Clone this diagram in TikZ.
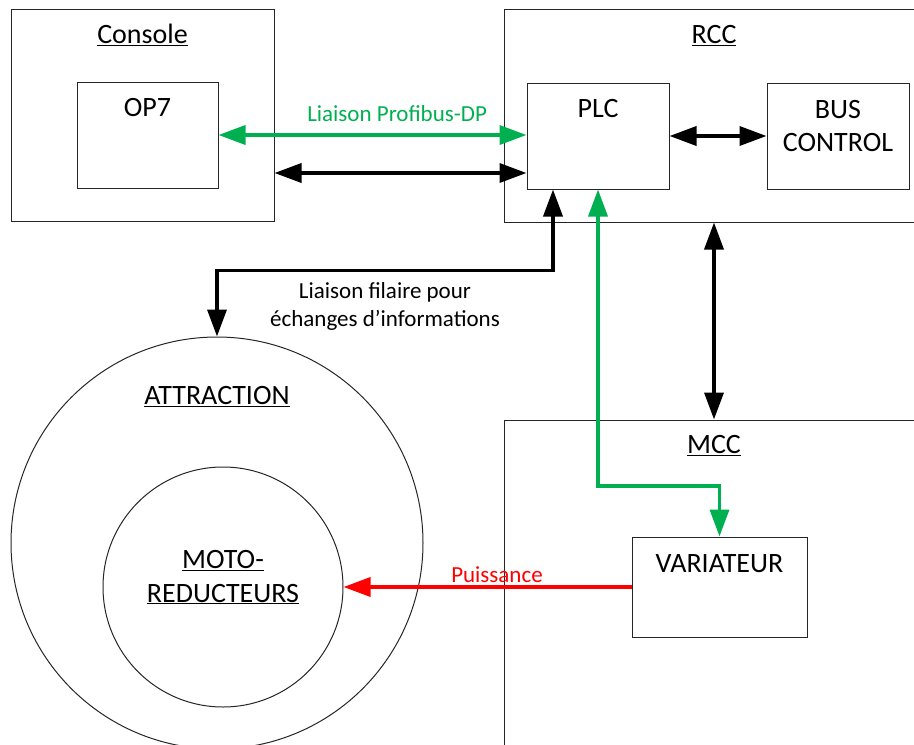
\documentclass[tikz,border=0pt]{standalone}
\usepackage{fontspec}
\setmainfont{Carlito}
\usepackage{xcolor}
\usetikzlibrary{arrows.meta, positioning}
\definecolor{profigreen}{HTML}{00B050}
\definecolor{powred}{HTML}{FF0000}

\begin{document}
\begin{tikzpicture}[x=1pt, y=-1pt,
		>={Triangle[length=27pt, width=19pt]},
		blk/.style={draw=black!85, line width=1pt, inner sep=0pt},
		ttl/.style={font=\fontsize{28}{33.5}\selectfont, anchor=base, align=center, inner sep=0pt},
		lbl/.style={font=\fontsize{23}{28}\selectfont, anchor=base, align=center, inner sep=0pt},
		link/.style={line width=3.6pt, <->},
		glink/.style={link, draw=profigreen},
		pow/.style={line width=3.6pt, ->, draw=powred}]
			\useasboundingbox (0,0) rectangle (914,745);
			\clip (0,0) rectangle (914,745);
			
			%% Console
			\node[blk, minimum width=263pt, minimum height=212pt] (console) at (142.5,115) {};
			\node[ttl] (consoletxt) at ([yshift=-35pt]console.north) {\underline{Console}};
			\node[blk, minimum width=141pt, minimum height=106pt] (op7) at (147.5,135) {};
			\node[ttl] (op7txt) at ([yshift=-35pt]op7.north) {OP7};
			
			%% RCC
			\node[blk, minimum width=420pt, minimum height=213pt] (rcc) at (714,115.5) {};
			\node[ttl] (rcctxt) at ([yshift=-35pt]rcc.north) {\underline{RCC}};
			\node[blk, minimum width=142pt, minimum height=106pt] (plc) at (598,136) {};
			\node[ttl] (plctxt) at ([yshift=-35pt]plc.north) {PLC};
			\node[blk, minimum width=142pt, minimum height=106pt] (bus) at (838,136) {};
			\node[ttl] (bustxt) at ([yshift=-69pt]bus.north) {BUS\\CONTROL};
			
			%% MCC
			\node[blk, minimum width=420pt, minimum height=360pt] (mcc) at (714,600) {};
			\node[ttl] (mcctxt) at ([yshift=-34pt]mcc.north) {\underline{MCC}};
			\node[blk, minimum width=175pt, minimum height=100pt] (var) at (719.5,587) {};
			\node[ttl] (vartxt) at ([yshift=-36pt]var.north) {VARIATEUR};
			
			%% Attraction
			\node[blk, circle, minimum size=412pt] (attr) at (217,543) {};
			\node[ttl] (attrtxt) at ([yshift=-68pt]attr.north) {\underline{ATTRACTION}};
			\node[blk, circle, minimum size=240pt] (moto) at (223,587) {};
			\node[ttl] (mototxt) at ([yshift=-15pt]moto.center) {\underline{MOTO-}\\\underline{REDUCTEURS}};
			
			%% Liaisons
			\coordinate (cbl) at ([yshift=-37pt]plc.west);
			\coordinate (gb) at (0,486);
			\draw[glink] (op7.east) -- (op7.east -| plc.west)
				node [lbl, pos=0.58, yshift=14pt, text=profigreen] (profitxt) {Liaison Profibus-DP};
			\draw[link] (cbl -| console.east) -- (cbl);
			\draw[link] (plc.east) -- (bus.west);
			\draw[link] (rcc.south) -- (mcc.north);
			\draw[link] ([xshift=-45pt]plc.south) -- ++(0,81) -| (attr.north)
				node [lbl, pos=0.25, yshift=-56pt] (filtxt) {Liaison filaire pour\\échanges d’informations};
			\draw[glink] (plc.south) -- (plc.south |- gb) -| (var.north);
			\draw[pow] (var.west) -- (moto.east)
				node [lbl, pos=0.467, yshift=5pt, text=powred] (powtxt) {Puissance};
		\end{tikzpicture}
\end{document}
